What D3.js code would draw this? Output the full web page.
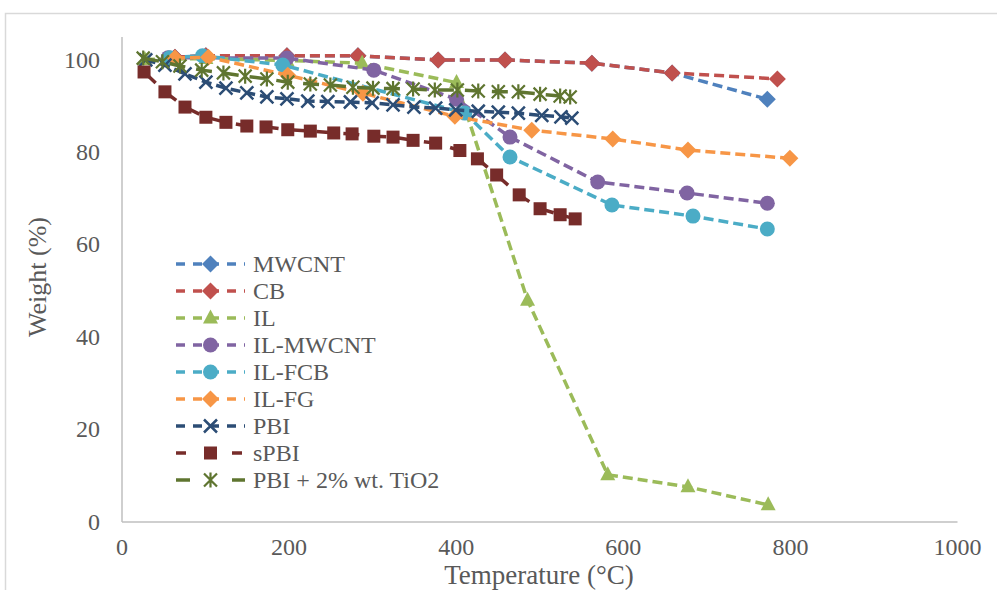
<!DOCTYPE html>
<html>
<head>
<meta charset="utf-8">
<script src="https://cdn.jsdelivr.net/npm/d3@7"></script>
<style>
  html, body { margin: 0; padding: 0; background: #ffffff; }
  svg { display: block; }
  text { font-family: "Liberation Serif", "DejaVu Serif", serif; fill: #595959; }
</style>
</head>
<body>
<svg id="chart" width="997" height="590"></svg>
<script>
// Thermogravimetric curves: [temperature °C, weight %]
const mwcnt   = [[64,100.5],[101,100.8],[198,100.8],[283,100.8],[379,99.9],[459,99.9],[563,99.2],[659,97.1],[773,91.4]];
const cb      = [[64,100.5],[101,100.8],[198,100.8],[283,100.8],[379,99.9],[459,99.9],[563,99.2],[659,97.1],[785,95.8]];
const il      = [[28,100.0],[101,100.2],[198,99.8],[288,99.2],[401,95.0],[486,47.9],[582,10.1],[678,7.5],[774,3.6]];
const ilMwcnt = [[56,100.4],[198,100.3],[302,97.7],[401,91.4],[465,83.2],[570,73.5],[677,71.1],[773,68.9]];
const ilFcb   = [[58,100.4],[97,100.8],[193,98.8],[411,88.4],[465,78.9],[587,68.5],[684,66.1],[773,63.3]];
const ilFg    = [[64,100.3],[104,100.5],[199,96.6],[289,92.7],[399,87.7],[491,84.7],[588,82.8],[678,80.4],[800,78.6]];
const pbi     = [[29,99.9],[52,98.8],[76,96.9],[101,95.1],[125,93.8],[150,92.8],[174,91.9],[198,91.5],[223,91.0],[247,90.9],[274,90.8],[300,90.6],[325,90.2],[350,89.7],[376,89.5],[400,89.1],[427,88.8],[451,88.6],[475,88.4],[503,87.9],[526,87.6],[539,87.3]];
const spbi    = [[27,97.3],[52,93.0],[76,89.7],[101,87.5],[125,86.4],[150,85.6],[173,85.4],[199,84.8],[226,84.5],[254,84.1],[276,83.9],[302,83.4],[325,83.2],[349,82.5],[376,81.9],[405,80.3],[426,78.5],[449,75.0],[476,70.7],[501,67.7],[525,66.4],[543,65.5]];
const pbiTio2 = [[26,100.3],[49,99.5],[70,98.6],[96,97.7],[122,97.1],[148,96.4],[174,95.8],[199,95.1],[226,94.7],[250,94.5],[277,94.0],[301,93.8],[325,93.7],[349,93.6],[375,93.4],[402,93.4],[427,93.2],[451,93.0],[475,93.0],[501,92.5],[525,92.1],[537,91.9]];

const seriesNames = ["MWCNT", "CB", "IL", "IL-MWCNT", "IL-FCB", "IL-FG", "PBI", "sPBI", "PBI + 2% wt. TiO2"];
const seriesData  = [mwcnt, cb, il, ilMwcnt, ilFcb, ilFg, pbi, spbi, pbiTio2];

const xTicks = [0, 200, 400, 600, 800, 1000];
const yTicks = [0, 20, 40, 60, 80, 100];
const xTitle = "Temperature (°C)";
const yTitle = "Weight (%)";

// Appearance of each series
const styles = [
  { color: "#4F81BD", marker: "diamond",  dash: "10,5",  legendDash: "9,8" },
  { color: "#C0504D", marker: "diamond",  dash: "10,5",  legendDash: "9,8" },
  { color: "#9BBB59", marker: "triangle", dash: "10,5",  legendDash: "9,8" },
  { color: "#8064A2", marker: "circle",   dash: "10,5",  legendDash: "9,8" },
  { color: "#4BACC6", marker: "circle",   dash: "10,5",  legendDash: "9,8" },
  { color: "#F79646", marker: "diamond",  dash: "10,5",  legendDash: "9,8" },
  { color: "#2C4D75", marker: "cross",    dash: "10,5",  legendDash: "9,8" },
  { color: "#772C2A", marker: "square",   dash: "16,11", legendDash: "10,46" },
  { color: "#5F7530", marker: "star",     dash: "16,11", legendDash: "14,42" }
];

const svg = d3.select("#chart");

// Outer chart frame
svg.append("rect")
  .attr("x", 5.5).attr("y", 13.5)
  .attr("width", 1000).attr("height", 600)
  .attr("fill", "#ffffff")
  .attr("stroke", "#D9D9D9").attr("stroke-width", 1.5);

const x = d3.scaleLinear().domain([0, 1000]).range([121.5, 957]);
const y = d3.scaleLinear().domain([0, 105]).range([521.5, 36.4]);

// Axes
const xAxis = svg.append("g")
  .attr("transform", `translate(0,${y(0)})`)
  .call(d3.axisBottom(x).tickValues(xTicks).tickSize(0).tickPadding(16).tickFormat(d3.format("d")));
const yAxis = svg.append("g")
  .attr("transform", `translate(${x(0)},0)`)
  .call(d3.axisLeft(y).tickValues(yTicks).tickSize(0).tickPadding(21.5).tickFormat(d3.format("d")));

[xAxis, yAxis].forEach(g => {
  g.select(".domain").attr("stroke", "#BFBFBF").attr("stroke-width", 1.5);
  g.selectAll("text")
    .attr("fill", "#595959")
    .style("font-family", "'Liberation Serif', 'DejaVu Serif', serif")
    .style("font-size", "24px");
});

// Axis titles
svg.append("text")
  .attr("x", 539).attr("y", 584)
  .attr("text-anchor", "middle")
  .style("font-size", "27px")
  .text(xTitle);

svg.append("text")
  .attr("transform", "translate(46,277) rotate(-90)")
  .attr("text-anchor", "middle")
  .style("font-size", "26px")
  .text(yTitle);

// Marker drawing
function drawMarker(g, type, color) {
  switch (type) {
    case "diamond":
      g.append("path").attr("d", "M0,-8.5L8.5,0L0,8.5L-8.5,0Z").attr("fill", color);
      break;
    case "triangle":
      g.append("path").attr("d", "M0,-8.5L7.5,5.5L-7.5,5.5Z").attr("fill", color);
      break;
    case "circle":
      g.append("circle").attr("r", 7.5).attr("fill", color);
      break;
    case "square":
      g.append("rect").attr("x", -6.5).attr("y", -6.5).attr("width", 13).attr("height", 13).attr("fill", color);
      break;
    case "cross":
      g.append("path").attr("d", "M-6.5,-6.5L6.5,6.5M-6.5,6.5L6.5,-6.5")
        .attr("stroke", color).attr("stroke-width", 2.5).attr("fill", "none");
      break;
    case "star":
      g.append("path").attr("d", "M-6.5,-6.5L6.5,6.5M-6.5,6.5L6.5,-6.5M0,-7.5L0,7.5")
        .attr("stroke", color).attr("stroke-width", 2.2).attr("fill", "none");
      break;
  }
}

const line = d3.line().x(d => x(d[0])).y(d => y(d[1]));

// Series: lines and markers, drawn in order so later series sit on top
seriesData.forEach((data, i) => {
  const st = styles[i];
  const g = svg.append("g").attr("class", "series");
  g.append("path")
    .datum(data)
    .attr("d", line)
    .attr("fill", "none")
    .attr("stroke", st.color)
    .attr("stroke-width", 3.5)
    .attr("stroke-dasharray", st.dash);
  g.selectAll("g.pt")
    .data(data)
    .join("g")
    .attr("class", "pt")
    .attr("transform", d => `translate(${x(d[0])},${y(d[1])})`)
    .each(function () { drawMarker(d3.select(this), st.marker, st.color); });
});

// Legend
const legend = svg.append("g").attr("transform", "translate(0,264)");
seriesNames.forEach((name, i) => {
  const st = styles[i];
  const row = legend.append("g").attr("transform", `translate(0,${i * 27})`);
  row.append("line")
    .attr("x1", 176).attr("x2", 245).attr("y1", 0).attr("y2", 0)
    .attr("stroke", st.color).attr("stroke-width", 3.5)
    .attr("stroke-dasharray", st.legendDash);
  const m = row.append("g").attr("transform", "translate(210.5,0)");
  drawMarker(m, st.marker, st.color);
  row.append("text")
    .attr("x", 253).attr("y", 8)
    .style("font-size", "24px")
    .text(name);
});
</script>
</body>
</html>
